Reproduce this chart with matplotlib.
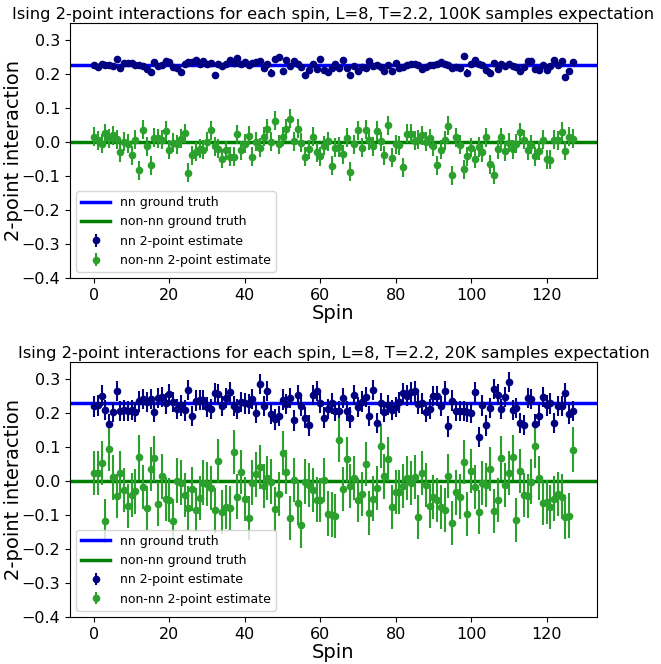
import matplotlib
matplotlib.use("Agg")
import matplotlib.pyplot as plt
import numpy as np

# nn / non-nn 2-point estimates (spins 0..127)
nn_100k = [0.226, 0.222, 0.231, 0.226, 0.228, 0.224, 0.246, 0.219, 0.233, 0.233, 0.233, 0.226, 0.228, 0.224, 0.214, 0.207,
           0.236, 0.224, 0.226, 0.239, 0.236, 0.222, 0.217, 0.207, 0.231, 0.236, 0.236, 0.243, 0.231, 0.239, 0.231, 0.233,
           0.197, 0.231, 0.224, 0.231, 0.241, 0.233, 0.249, 0.229, 0.236, 0.226, 0.234, 0.236, 0.239, 0.217, 0.231, 0.205,
           0.246, 0.251, 0.209, 0.241, 0.224, 0.239, 0.231, 0.222, 0.199, 0.212, 0.231, 0.214, 0.244, 0.212, 0.207, 0.217,
           0.229, 0.217, 0.243, 0.217, 0.199, 0.224, 0.210, 0.222, 0.217, 0.239, 0.224, 0.226, 0.222, 0.209, 0.226, 0.209,
           0.233, 0.217, 0.222, 0.226, 0.229, 0.231, 0.226, 0.214, 0.222, 0.226, 0.226, 0.231, 0.236, 0.229, 0.226, 0.217,
           0.220, 0.217, 0.253, 0.205, 0.229, 0.243, 0.231, 0.228, 0.212, 0.205, 0.233, 0.214, 0.229, 0.224, 0.231, 0.224,
           0.222, 0.210, 0.222, 0.239, 0.239, 0.214, 0.212, 0.228, 0.212, 0.224, 0.241, 0.226, 0.239, 0.192, 0.210, 0.237]
non_nn_100k = [0.016, 0.006, -0.004, 0.027, 0.011, 0.021, 0.009, -0.030, 0.001, -0.004, -0.038, 0.008, -0.082, 0.037, -0.012, -0.068,
               0.013, 0.011, 0.008, 0.033, -0.022, -0.001, -0.006, 0.010, 0.027, -0.090, -0.038, -0.028, -0.019, -0.022, 0.001, 0.035,
               -0.012, -0.019, -0.048, -0.024, -0.043, -0.043, 0.024, -0.024, -0.004, 0.019, -0.043, 0.001, -0.016, 0.016, 0.040, 0.001,
               0.063, -0.006, 0.016, 0.040, 0.069, 0.003, 0.040, -0.001, -0.043, -0.020, 0.016, -0.029, -0.041, -0.010, 0.003, -0.069,
               -0.016, -0.014, -0.035, 0.013, -0.087, -0.006, 0.035, -0.016, 0.037, 0.006, -0.012, 0.033, 0.003, -0.038, 0.050, -0.046,
               -0.006, -0.009, -0.073, 0.025, 0.025, 0.004, 0.008, 0.021, 0.001, 0.011, -0.012, -0.068, -0.022, 0.006, 0.049, -0.097,
               0.014, -0.007, -0.080, -0.041, -0.016, -0.049, -0.014, -0.029, 0.014, -0.065, -0.095, -0.020, 0.014, -0.026, -0.002, -0.020,
               -0.004, 0.029, 0.008, -0.023, -0.007, -0.041, -0.025, 0.008, -0.050, -0.051, 0.008, 0.006, 0.031, -0.025, 0.016, 0.010]

nn_20k = [0.219, 0.222, 0.251, 0.209, 0.168, 0.202, 0.264, 0.205, 0.207, 0.205, 0.209, 0.202, 0.234, 0.241, 0.232, 0.241,
          0.202, 0.244, 0.246, 0.228, 0.256, 0.232, 0.212, 0.222, 0.207, 0.267, 0.190, 0.236, 0.238, 0.238, 0.217, 0.212,
          0.258, 0.256, 0.220, 0.244, 0.260, 0.220, 0.212, 0.232, 0.228, 0.226, 0.241, 0.199, 0.285, 0.220, 0.264, 0.197,
          0.181, 0.190, 0.239, 0.226, 0.243, 0.178, 0.253, 0.220, 0.186, 0.163, 0.253, 0.265, 0.229, 0.186, 0.212, 0.228,
          0.205, 0.205, 0.244, 0.205, 0.186, 0.253, 0.217, 0.233, 0.246, 0.190, 0.267, 0.170, 0.228, 0.202, 0.224, 0.209,
          0.217, 0.231, 0.258, 0.251, 0.260, 0.263, 0.226, 0.228, 0.202, 0.212, 0.249, 0.249, 0.220, 0.263, 0.160, 0.236,
          0.205, 0.205, 0.205, 0.202, 0.199, 0.260, 0.129, 0.222, 0.163, 0.215, 0.270, 0.254, 0.212, 0.246, 0.290, 0.209,
          0.215, 0.170, 0.165, 0.244, 0.241, 0.168, 0.192, 0.246, 0.222, 0.228, 0.171, 0.220, 0.220, 0.258, 0.197, 0.205]
non_nn_20k = [0.024, 0.022, 0.053, -0.119, 0.095, 0.010, -0.044, 0.024, -0.028, -0.075, -0.041, -0.031, 0.069, -0.017, -0.080, 0.035,
              0.066, -0.068, 0.013, -0.053, -0.057, -0.119, 0.001, -0.005, -0.041, -0.080, -0.024, -0.086, -0.051, -0.005, -0.009, -0.021,
              -0.087, 0.058, -0.092, -0.078, -0.080, 0.086, -0.046, 0.027, -0.053, -0.109, -0.005, 0.019, 0.040, -0.015, 0.008, -0.002,
              -0.083, -0.038, 0.083, 0.025, -0.109, 0.003, -0.065, -0.131, -0.002, -0.012, -0.028, -0.055, -0.057, 0.003, -0.096, -0.099,
              -0.104, 0.120, -0.024, 0.063, -0.014, 0.008, -0.057, -0.038, 0.049, -0.094, -0.052, -0.021, 0.102, 0.013, 0.064, -0.078,
              -0.033, -0.033, -0.014, 0.008, -0.007, 0.011, -0.106, 0.024, -0.012, -0.073, -0.048, -0.057, -0.077, -0.086, 0.015, -0.125,
              -0.034, -0.046, 0.056, -0.097, 0.030, -0.018, -0.092, -0.007, -0.012, 0.034, -0.089, -0.057, 0.068, -0.012, 0.024, 0.069,
              -0.114, 0.030, -0.042, -0.044, -0.002, 0.102, 0.008, -0.065, -0.063, -0.077, -0.052, -0.039, -0.046, -0.106, -0.102, 0.092]

# error bar half-widths (typical)
nn_err = {"100K": 0.009, "20K": 0.03}
non_nn_err = {"100K": 0.028, "20K": 0.065}

nn_truth = 0.228
non_nn_truth = 0.0

panels = [("100K", nn_100k, non_nn_100k), ("20K", nn_20k, non_nn_20k)]


def draw_panel(ax, label, nn, non_nn):
    spins = np.arange(len(nn))
    ax.axhline(nn_truth, color='blue', lw=2.5, label='nn ground truth')
    ax.axhline(non_nn_truth, color='green', lw=2.5, label='non-nn ground truth')
    ax.errorbar(spins, nn, yerr=nn_err[label], fmt='o', color='navy', ms=4.5, elinewidth=1.5,
                label='nn 2-point estimate')
    ax.errorbar(spins, non_nn, yerr=non_nn_err[label], fmt='o', color='#2ca02c', ms=4.5, elinewidth=1.5,
                label='non-nn 2-point estimate')
    ax.set_ylim(-0.4, 0.35)
    ax.set_yticks(np.arange(-0.4, 0.31, 0.1))
    ax.set_title(f'Ising 2-point interactions for each spin, L=8, T=2.2, {label} samples expectation',
                 fontsize=11.7, pad=3)
    ax.set_xlabel('Spin', fontsize=14, labelpad=1)
    ax.set_ylabel('2-point interaction', fontsize=14)
    ax.yaxis.set_label_coords(-0.089, 0.5)
    ax.tick_params(labelsize=11.5)
    ax.legend(loc='lower left', fontsize=9, handlelength=2.3)


fig = plt.figure(figsize=(6.61, 6.64), dpi=100)
ax_top = fig.add_axes([0.106, 0.581, 0.797, 0.384])
ax_bot = fig.add_axes([0.106, 0.071, 0.797, 0.384])

for ax, (label, nn, non_nn) in zip([ax_top, ax_bot], panels):
    draw_panel(ax, label, nn, non_nn)

fig.savefig('out.png', dpi=100)
